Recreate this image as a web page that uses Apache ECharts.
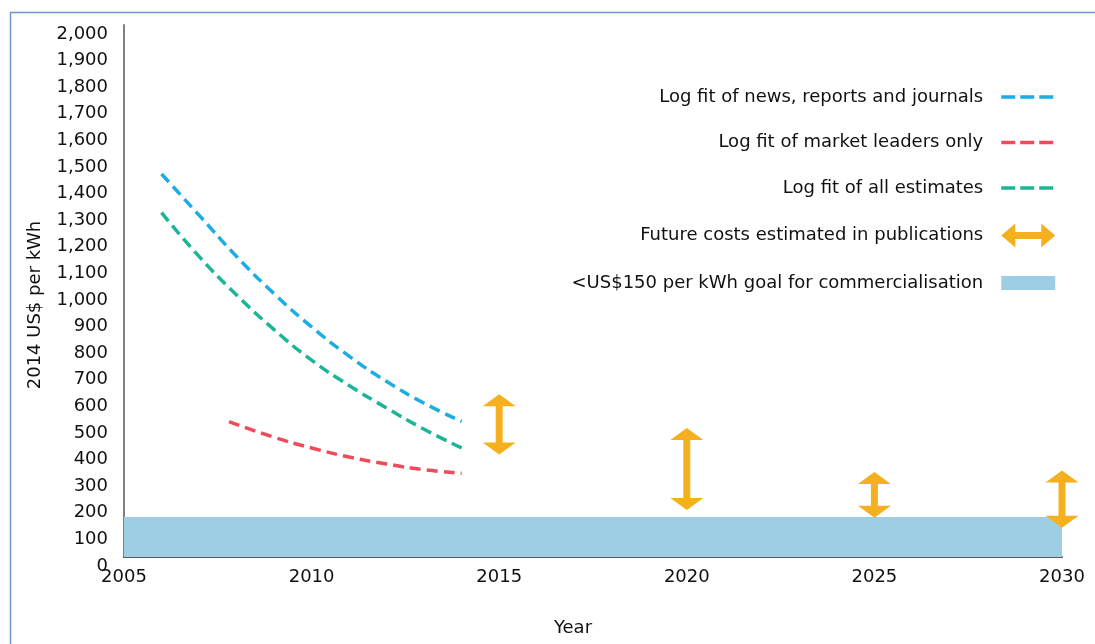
<!DOCTYPE html>
<html style="height: 100%">
<head>
	<meta charset="utf-8">
	<title></title>
	<script type="text/javascript" src="https://cdn.jsdelivr.net/npm/echarts@6/dist/echarts.min.js"></script>
</head>
<body style="height: 100%; margin: 0; background: #fff">
<div id="container" style="height: 100%"></div>
<script type="text/javascript">
	// log fits, [year, US$ per kWh]
	var newsFit = [[2006, 1440], [2007, 1285], [2008, 1130], [2009, 990], [2010, 865],
		[2011, 755], [2012, 660], [2013, 578], [2014, 510]];
	var leadersFit = [[2007.8, 509], [2009, 450], [2010, 410], [2011, 376], [2012, 350],
		[2013, 328], [2014, 315]];
	var allFit = [[2006, 1295], [2007, 1130], [2008, 985], [2009, 855], [2010, 740],
		[2011, 645], [2012, 560], [2013, 480], [2014, 410]];
	// future estimates: [year, low, high]
	var futureRanges = [[2015, 385, 612], [2020, 177, 485], [2025, 148, 320], [2030, 110, 325]];
	var goal = [[2005, 2030, 150]];

	var names = ['Log fit of news, reports and journals', 'Log fit of market leaders only',
		'Log fit of all estimates', 'Future costs estimated in publications',
		'<US$150 per kWh goal for commercialisation'];
	var font = 'DejaVu Sans';

	var dom = document.getElementById('container');
	var myChart = echarts.init(dom);

	function renderArrow(params, api) {
		var b = api.coord([api.value(0), api.value(1)]);
		var t = api.coord([api.value(0), api.value(2)]);
		var cx = b[0], yb = b[1], yt = t[1];
		var hw = 16.5, hh = 12, sw = 3.5;
		return {
			type: 'polygon',
			shape: {
				points: [[cx, yt], [cx + hw, yt + hh], [cx + sw, yt + hh], [cx + sw, yb - hh],
					[cx + hw, yb - hh], [cx, yb], [cx - hw, yb - hh], [cx - sw, yb - hh],
					[cx - sw, yt + hh], [cx - hw, yt + hh]]
			},
			style: { fill: '#F5B01F' }
		};
	}

	function renderBand(params, api) {
		var p0 = api.coord([api.value(0), 0]);
		var p1 = api.coord([api.value(1), api.value(2)]);
		return {
			type: 'rect',
			shape: { x: p0[0], y: p1[1], width: p1[0] - p0[0], height: p0[1] - p1[1] },
			style: { fill: '#9ECEE3' }
		};
	}

	var dash = { width: 3.5, type: [11, 6] };
	var hideDot = { opacity: 0 };

	var option = {
		backgroundColor: '#fff',
		animation: false,
		graphic: [{
			type: 'rect',
			shape: { x: 10.5, y: 12.5, width: 1200, height: 800 },
			style: { fill: null, stroke: '#6C98D4', lineWidth: 1.5 },
			z: 100
		}],
		grid: { left: 124, right: 33, top: 25, bottom: 87 },
		legend: {
			orient: 'vertical',
			align: 'right',
			right: 33,
			top: 82,
			itemWidth: 54,
			itemHeight: 24,
			itemGap: 25.5,
			lineStyle: { width: 3.5, type: [14, 5] },
			textStyle: { fontFamily: font, fontSize: 18, color: '#111', lineHeight: 20, padding: [0, 13, 0, 0] },
			data: [
				{ name: names[0], itemStyle: hideDot },
				{ name: names[1], itemStyle: hideDot },
				{ name: names[2], itemStyle: hideDot },
				{ name: names[3], icon: 'path://M0,12 L14,0 L14,8.5 L40,8.5 L40,0 L54,12 L40,24 L40,15.5 L14,15.5 L14,24 Z' },
				{ name: names[4], icon: 'path://M0,0 L57,0 L57,15 L0,15 Z' }
			]
		},
		xAxis: {
			type: 'value',
			min: 2005,
			max: 2030,
			interval: 5,
			name: 'Year',
			nameLocation: 'middle',
			nameGap: 62,
			nameTextStyle: { fontFamily: font, fontSize: 18, color: '#111', padding: [0, 40, 0, 0] },
			axisLine: { lineStyle: { color: '#595959', width: 2 } },
			axisTick: { show: false },
			splitLine: { show: false },
			axisLabel: {
				fontFamily: font, fontSize: 18, color: '#111', margin: 11,
				formatter: function (v) { return String(v); }
			}
		},
		yAxis: {
			type: 'value',
			min: 0,
			max: 2000,
			interval: 100,
			name: '2014 US$ per kWh',
			nameLocation: 'middle',
			nameGap: 80,
			nameTextStyle: { fontFamily: font, fontSize: 18, color: '#111', padding: [0, 28, 0, 0] },
			axisLine: { show: true, lineStyle: { color: '#808080', width: 2 } },
			axisTick: { show: false },
			splitLine: { show: false },
			axisLabel: {
				fontFamily: font, fontSize: 18, color: '#111', margin: 16, verticalAlign: 'top',
				formatter: function (v) { return v.toLocaleString('en-US'); }
			}
		},
		series: [
			{
				name: names[4], type: 'custom', renderItem: renderBand, data: goal,
				itemStyle: { color: '#9ECEE3' }, z: 1, silent: true
			},
			{
				name: names[0], type: 'line', smooth: true, symbol: 'none', data: newsFit,
				itemStyle: { color: '#1DADE2' }, lineStyle: Object.assign({ color: '#1DADE2' }, dash), z: 3
			},
			{
				name: names[1], type: 'line', smooth: true, symbol: 'none', data: leadersFit,
				itemStyle: { color: '#EF4B5A' }, lineStyle: Object.assign({ color: '#EF4B5A' }, dash), z: 3
			},
			{
				name: names[2], type: 'line', smooth: true, symbol: 'none', data: allFit,
				itemStyle: { color: '#1BB597' }, lineStyle: Object.assign({ color: '#1BB597' }, dash), z: 3
			},
			{
				name: names[3], type: 'custom', renderItem: renderArrow, data: futureRanges,
				itemStyle: { color: '#F5B01F' }, clip: false, z: 4
			}
		]
	};

	myChart.setOption(option);
</script>
</body>
</html>
